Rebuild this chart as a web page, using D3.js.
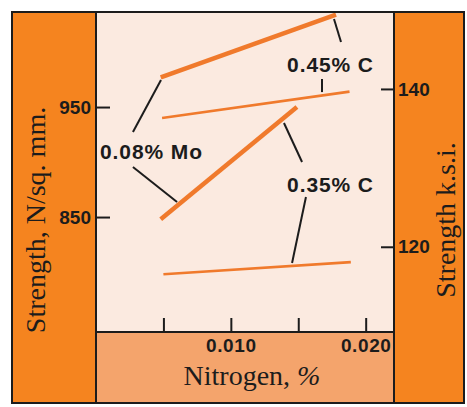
<!DOCTYPE html>
<html>
<head>
<meta charset="utf-8">
<script src="https://cdn.jsdelivr.net/npm/d3@7"></script>
<style>
  html, body { margin: 0; padding: 0; background: #ffffff; }
  svg { display: block; }
</style>
</head>
<body>
<svg id="chart" width="467" height="407"></svg>
<script>
// ---------- data ----------
const leftTicks = [850, 950];          // N/sq. mm.
const rightTicks = [120, 140];         // k.s.i.
const xTicks = [0.005, 0.010, 0.015, 0.020];
const xTickLabels = ["", "0.010", "", "0.020"];

// series: [nitrogen %, strength N/sq.mm.]
const c45Mo = [[0.0048, 977], [0.0178, 1034]];
const c45   = [[0.0049, 940], [0.0188, 964]];
const c35Mo = [[0.0048, 848], [0.0149, 950]];
const c35   = [[0.0050, 798], [0.0189, 809]];

const seriesNames = ["0.45% C + Mo", "0.45% C", "0.35% C + Mo", "0.35% C"];
const seriesData = [c45Mo, c45, c35Mo, c35];
const seriesHeavy = [true, false, true, false];

// annotation labels: [text, nitrogen, strength]
const labelTexts = ["0.45% C", "0.08% Mo", "0.35% C"];
const labelPos = [[0.01417, 981.8], [0.0003, 902.7], [0.01417, 872.7]];

// leader lines: [[n1, s1], [n2, s2]]
const leaders = [
  [[0.00482, 974.5], [0.00274, 927.3]],
  [[0.00274, 895.5], [0.00601, 863.6]],
  [[0.01765, 1030.0], [0.01817, 1009.1]],
  [[0.01676, 975.5], [0.01676, 963.6]],
  [[0.01394, 935.5], [0.01528, 900.0]],
  [[0.01557, 868.2], [0.01454, 808.2]]
];

// ---------- layout ----------
const svg = d3.select("#chart");
const outer = {x0: 12, y0: 12, x1: 464, y1: 403};
const plot = {x0: 96, y0: 12, x1: 394, y1: 332};

const x = d3.scaleLinear().domain([0, 0.0221]).range([plot.x0, plot.x1]);
const yL = d3.scaleLinear().domain([745.5, 1036.4]).range([plot.y1, plot.y0]);
const yR = d3.scaleLinear().domain([109.2, 149.75]).range([plot.y1, plot.y0]);

const orange = "#F5841F";
const lightOrange = "#F4A46C";
const plotBg = "#FBEAE0";
const lineOrange = "#F07A2C";
const ink = "#1c1c1c";

// panels
svg.append("rect").attr("x", outer.x0).attr("y", outer.y0)
  .attr("width", plot.x0 - outer.x0).attr("height", outer.y1 - outer.y0).attr("fill", orange);
svg.append("rect").attr("x", plot.x1).attr("y", outer.y0)
  .attr("width", outer.x1 - plot.x1).attr("height", outer.y1 - outer.y0).attr("fill", orange);
svg.append("rect").attr("x", plot.x0).attr("y", plot.y1)
  .attr("width", plot.x1 - plot.x0).attr("height", outer.y1 - plot.y1).attr("fill", lightOrange);
svg.append("rect").attr("x", plot.x0).attr("y", plot.y0)
  .attr("width", plot.x1 - plot.x0).attr("height", plot.y1 - plot.y0).attr("fill", plotBg);

// series lines
const line = d3.line().x(d => x(d[0])).y(d => yL(d[1]));
svg.append("g").selectAll("path").data(seriesData).join("path")
  .attr("d", line)
  .attr("fill", "none")
  .attr("stroke", lineOrange)
  .attr("stroke-width", (d, i) => seriesHeavy[i] ? 4.5 : 2.6)
  .attr("stroke-linecap", "butt");

// leader lines
svg.append("g").selectAll("line").data(leaders).join("line")
  .attr("x1", d => x(d[0][0])).attr("y1", d => yL(d[0][1]))
  .attr("x2", d => x(d[1][0])).attr("y2", d => yL(d[1][1]))
  .attr("stroke", ink).attr("stroke-width", 2);

// labels
svg.append("g").selectAll("text").data(labelTexts).join("text")
  .attr("x", (d, i) => x(labelPos[i][0]))
  .attr("y", (d, i) => yL(labelPos[i][1]))
  .attr("font-family", "'Liberation Sans', Arial, sans-serif")
  .attr("font-weight", "bold")
  .attr("font-size", 21)
  .attr("letter-spacing", "0.9px")
  .attr("fill", ink)
  .text(d => d);

// axes
function styleAxis(g) {
  g.select(".domain").remove();
  g.selectAll(".tick line").attr("stroke", ink).attr("stroke-width", 2);
  g.selectAll(".tick text")
    .attr("font-family", "'Liberation Sans', Arial, sans-serif")
    .attr("font-weight", "bold")
    .attr("font-size", 19)
    .attr("fill", ink);
}
svg.append("g").attr("transform", `translate(${plot.x0},0)`)
  .call(d3.axisLeft(yL).tickValues(leftTicks).tickSize(-14).tickPadding(5))
  .call(styleAxis);
svg.append("g").attr("transform", `translate(${plot.x1},0)`)
  .call(d3.axisRight(yR).tickValues(rightTicks).tickSize(-13).tickPadding(4))
  .call(styleAxis);
svg.append("g").attr("transform", `translate(0,${plot.y1})`)
  .call(d3.axisBottom(x).tickValues(xTicks).tickSize(-14).tickPadding(7)
    .tickFormat((d, i) => xTickLabels[i]))
  .call(styleAxis)
  .call(g => g.selectAll(".tick text").attr("letter-spacing", "0.6px"));

// borders
const border = svg.append("g").attr("stroke", ink).attr("stroke-width", 2).attr("fill", "none");
border.append("rect").attr("x", outer.x0).attr("y", outer.y0)
  .attr("width", outer.x1 - outer.x0).attr("height", outer.y1 - outer.y0);
border.append("line").attr("x1", plot.x0).attr("x2", plot.x0).attr("y1", outer.y0).attr("y2", outer.y1);
border.append("line").attr("x1", plot.x1).attr("x2", plot.x1).attr("y1", outer.y0).attr("y2", outer.y1);
border.append("line").attr("x1", plot.x0).attr("x2", plot.x1).attr("y1", plot.y1).attr("y2", plot.y1);

// axis titles
const serif = "'Liberation Serif', 'Times New Roman', serif";
svg.append("text")
  .attr("transform", `translate(45,220) rotate(-90)`)
  .attr("text-anchor", "middle")
  .attr("font-family", serif).attr("font-size", 28).attr("fill", ink)
  .text("Strength, N/sq. mm.");
svg.append("text")
  .attr("transform", `translate(455,220) rotate(-90)`)
  .attr("text-anchor", "middle")
  .attr("font-family", serif).attr("font-size", 28).attr("fill", ink)
  .text("Strength k.s.i.");
const xt = svg.append("text")
  .attr("x", 252).attr("y", 385)
  .attr("text-anchor", "middle")
  .attr("font-family", serif).attr("font-size", 28).attr("fill", ink);
xt.append("tspan").text("Nitrogen, ");
xt.append("tspan").attr("font-style", "italic").text("%");
</script>
</body>
</html>
